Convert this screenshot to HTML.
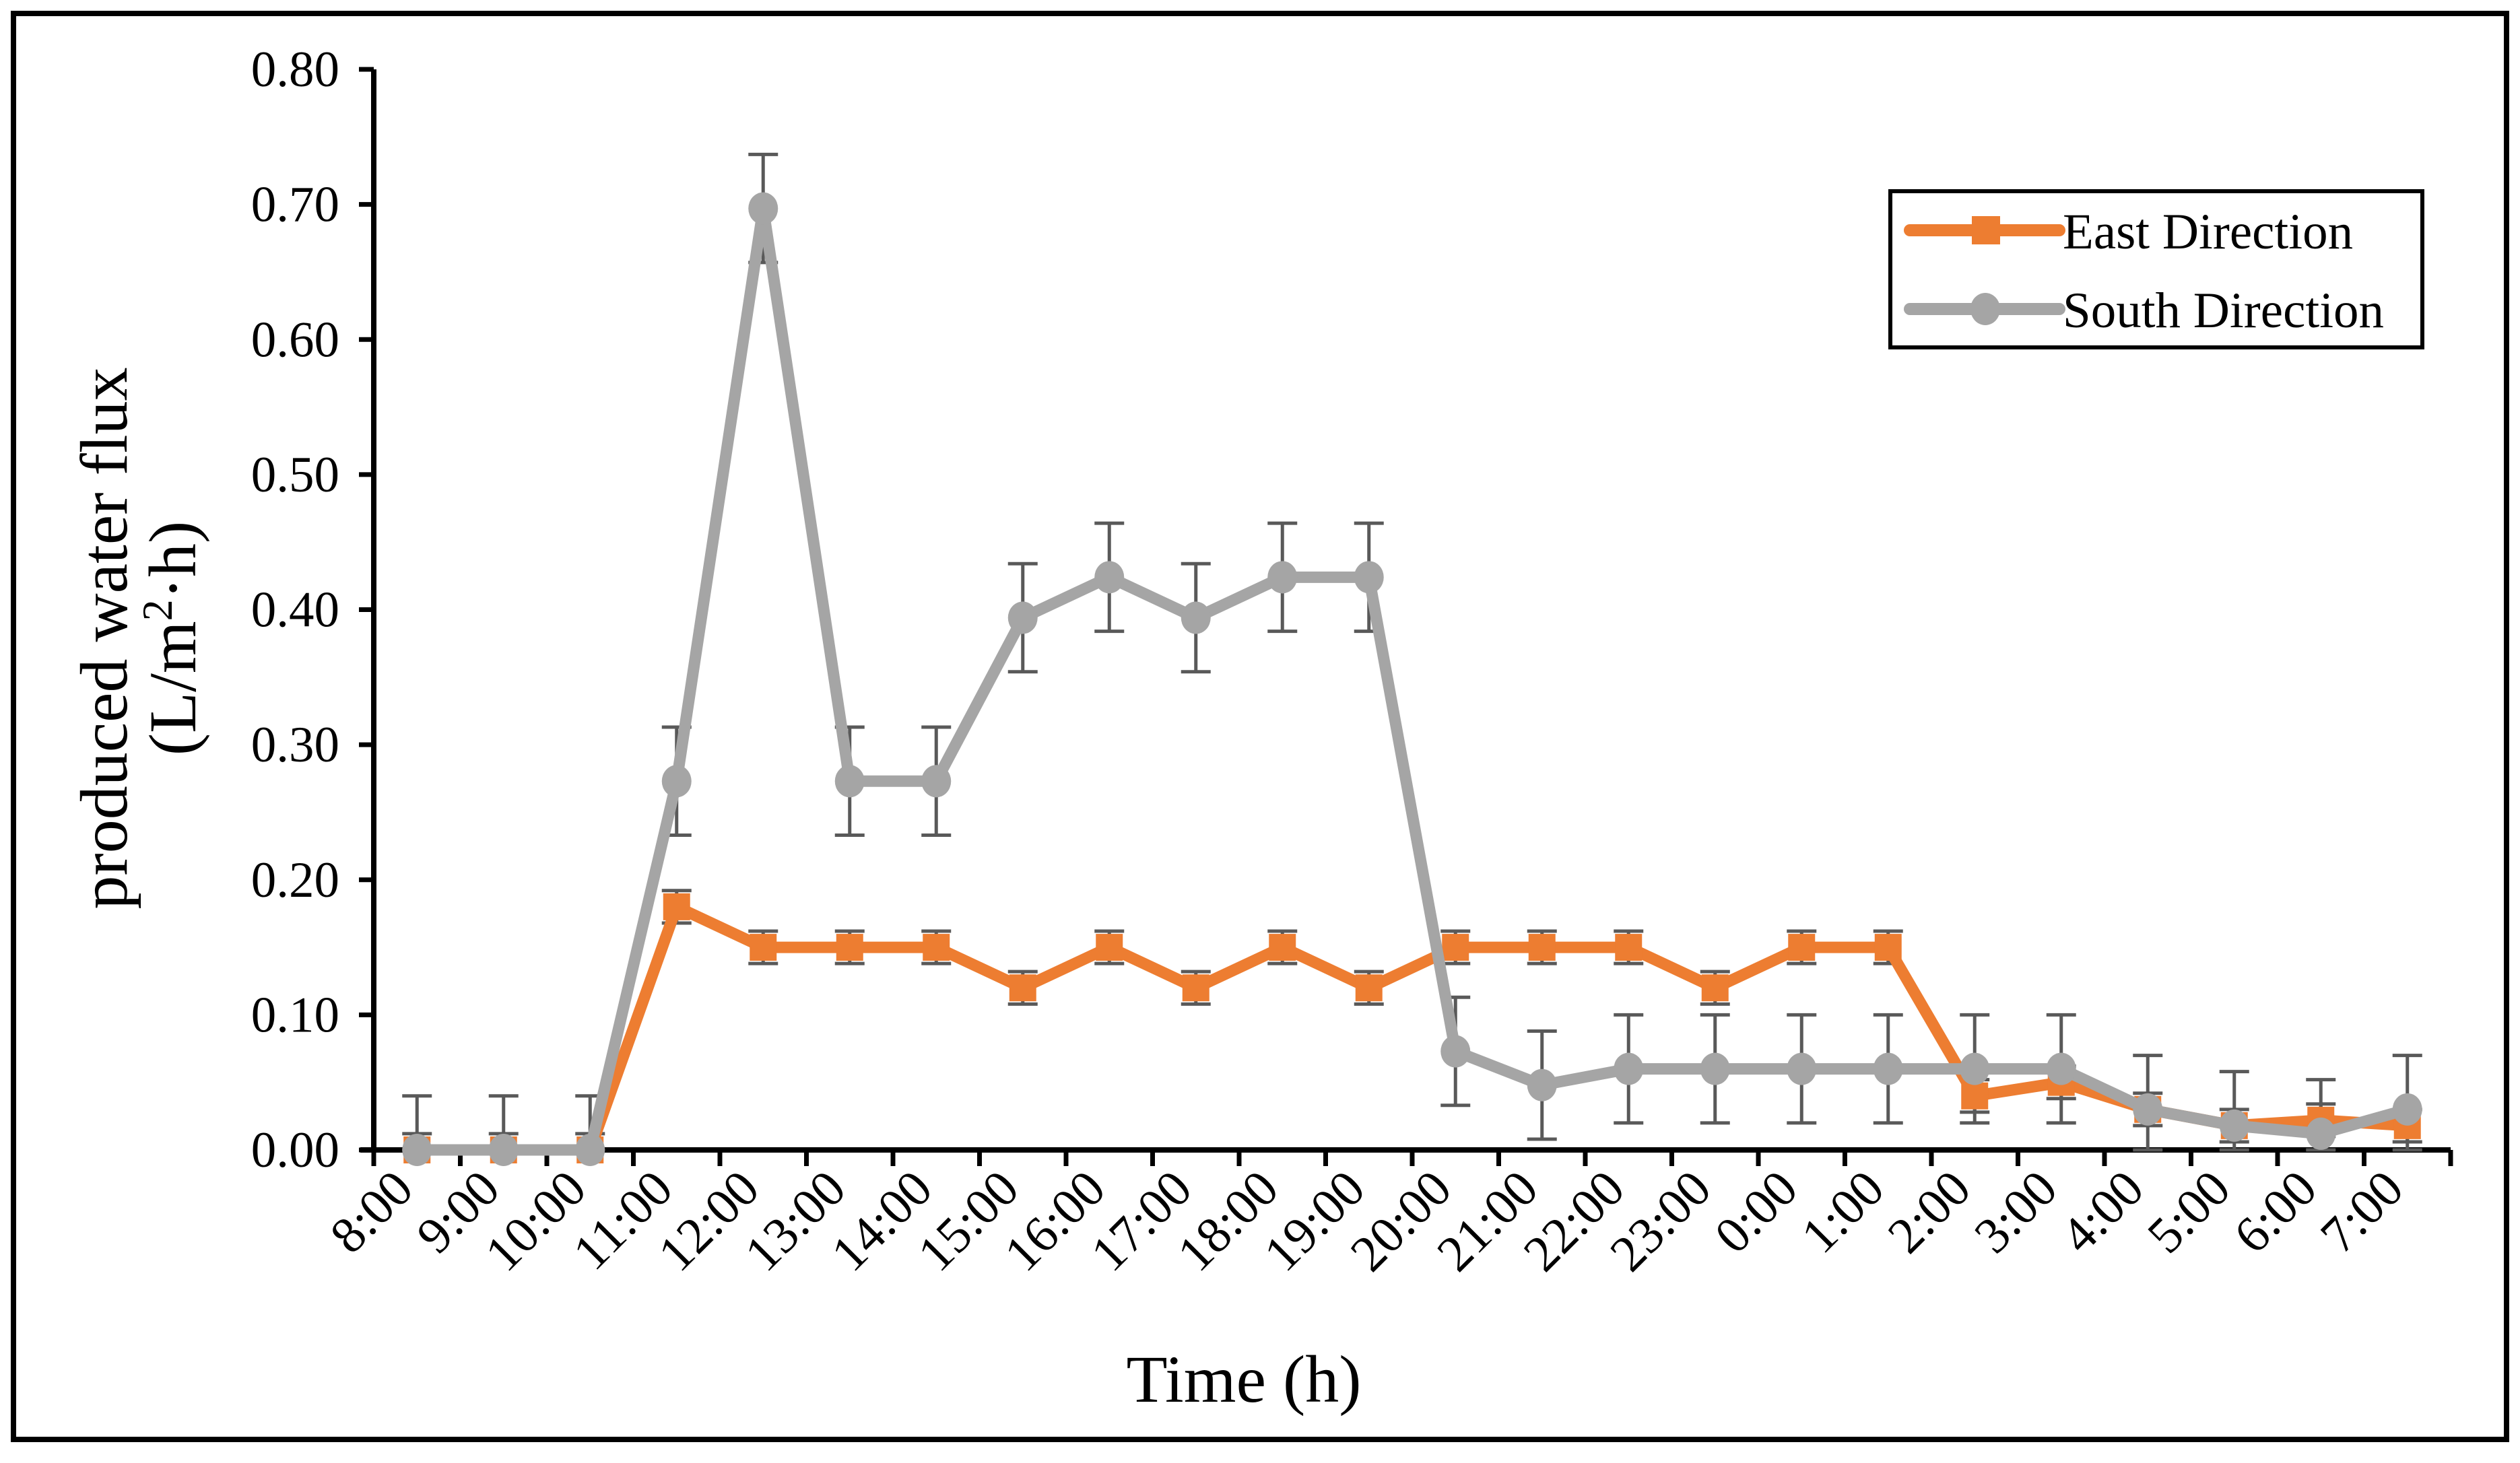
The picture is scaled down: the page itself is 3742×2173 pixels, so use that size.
<!DOCTYPE html>
<html><head><meta charset="utf-8"><style>
html,body{margin:0;padding:0;background:#fff;}
svg text{font-family:"Liberation Serif",serif;fill:#000;}
</style></head><body>
<svg id="chart" width="3742" height="2168" viewBox="0 0 3742 2168" xmlns="http://www.w3.org/2000/svg">
<rect x="20" y="20" width="3702" height="2118" fill="#fff" stroke="#000" stroke-width="8"/>
<g id="axes"></g>
<g id="errors"></g>
<g id="series"></g>
<text transform="translate(188,948) rotate(-90)" text-anchor="middle" font-size="100">produced water flux</text>
<text transform="translate(290,948) rotate(-90)" text-anchor="middle" font-size="100">(L/m<tspan baseline-shift="super" font-size="64">2</tspan>·h)</text>
<text x="1847" y="2082" text-anchor="middle" font-size="100">Time (h)</text>
<g>
<rect x="2807" y="284" width="790" height="232" fill="#fff" stroke="#000" stroke-width="6"/>
<g>
<line x1="2836" y1="342" x2="3058" y2="342" stroke="#ED7D31" stroke-width="18" stroke-linecap="round"/>
<rect x="2928" y="321" width="42" height="42" fill="#ED7D31"/>
<text x="3063" y="369" font-size="75">East Direction</text>
</g>
<g>
<line x1="2836" y1="459" x2="3058" y2="459" stroke="#A5A5A5" stroke-width="18" stroke-linecap="round"/>
<ellipse cx="2948" cy="459" rx="22" ry="24" fill="#A5A5A5"/>
<text x="3063" y="486" font-size="75">South Direction</text>
</g>
</g>
</svg>
<script>
const categories = ["8:00","9:00","10:00","11:00","12:00","13:00","14:00","15:00","16:00","17:00","18:00","19:00","20:00","21:00","22:00","23:00","0:00","1:00","2:00","3:00","4:00","5:00","6:00","7:00"];
const eastValues = [0,0,0,0.18,0.15,0.15,0.15,0.12,0.15,0.12,0.15,0.12,0.15,0.15,0.15,0.12,0.15,0.15,0.04,0.05,0.03,0.018,0.022,0.018];
const eastErrors = [0.012,0.012,0.012,0.012,0.012,0.012,0.012,0.012,0.012,0.012,0.012,0.012,0.012,0.012,0.012,0.012,0.012,0.012,0.012,0.012,0.012,0.012,0.012,0.012];
const southValues = [0,0,0,0.273,0.697,0.273,0.273,0.394,0.424,0.394,0.424,0.424,0.073,0.048,0.06,0.06,0.06,0.06,0.06,0.06,0.03,0.018,0.012,0.03];
const southErrors = [0.04,0.04,0.04,0.04,0.04,0.04,0.04,0.04,0.04,0.04,0.04,0.04,0.04,0.04,0.04,0.04,0.04,0.04,0.04,0.04,0.04,0.04,0.04,0.04];
const yTicks = [0,0.1,0.2,0.3,0.4,0.5,0.6,0.7,0.8];
const yTickLabels = ["0.00","0.10","0.20","0.30","0.40","0.50","0.60","0.70","0.80"];

const NS="http://www.w3.org/2000/svg";
const X0=555, X1=3639, Y0=1708, Y1=103, YMAX=0.8;
const band=(X1-X0)/categories.length;
function xs(i){return X0+band*(i+0.5);}
function ys(v){return Y0-(v/YMAX)*(Y0-Y1);}
function mk(tag,attrs,parent){const e=document.createElementNS(NS,tag);for(const k in attrs)e.setAttribute(k,attrs[k]);parent.appendChild(e);return e;}

const axes=document.getElementById('axes');
const ya=mk('line',{x1:X0,y1:Y1,x2:X0,y2:Y0,stroke:'#000','stroke-width':8},axes);


const xa=mk('line',{x1:X0-20,y1:Y0,x2:X1,y2:Y0,stroke:'#000','stroke-width':8},axes);


yTicks.forEach((v,i)=>{
  const t=mk('line',{x1:X0-22,y1:ys(v),x2:X0,y2:ys(v),stroke:'#000','stroke-width':7},axes);
  
  
  const l=mk('text',{x:504,y:ys(v)+25,'text-anchor':'end','font-size':75},axes);
  l.textContent=yTickLabels[i];
  
  
});
for(let i=0;i<=categories.length;i++){
  const x=X0+band*i;
  const t=mk('line',{x1:x,y1:Y0,x2:x,y2:Y0+24,stroke:'#000','stroke-width':7},axes);
  
  
}
categories.forEach((c,i)=>{
  const x=xs(i)-2, y=1770;
  const l=mk('text',{x:x,y:y,'text-anchor':'end','font-size':76,transform:`rotate(-45 ${x} ${y})`},axes);
  l.textContent=c;
  
  
});

const errs=document.getElementById('errors');
function errorBars(vals,errsArr,name){
  vals.forEach((v,i)=>{
    const top=ys(v+errsArr[i]), bot=ys(Math.max(0,v-errsArr[i]));
    const g=mk('g',{stroke:'#595959','stroke-width':5},errs);
    
    
    mk('line',{x1:xs(i),y1:top,x2:xs(i),y2:bot},g);
    mk('line',{x1:xs(i)-22,y1:top,x2:xs(i)+22,y2:top},g);
    mk('line',{x1:xs(i)-22,y1:bot,x2:xs(i)+22,y2:bot},g);
  });
}
errorBars(southValues,southErrors,'south');
errorBars(eastValues,eastErrors,'east');

const ser=document.getElementById('series');
function drawLine(vals,color,name,marker){
  const pts=vals.map((v,i)=>xs(i)+','+ys(v)).join(' ');
  const p=mk('polyline',{points:pts,fill:'none',stroke:color,'stroke-width':17,'stroke-linejoin':'round'},ser);
  
  
  vals.forEach((v,i)=>{
    let m;
    if(marker==='square') m=mk('rect',{x:xs(i)-20,y:ys(v)-20,width:40,height:40,fill:color},ser);
    else m=mk('ellipse',{cx:xs(i),cy:ys(v),rx:22,ry:24,fill:color},ser);
    
    
  });
}
drawLine(eastValues,'#ED7D31','east','square');
drawLine(southValues,'#A5A5A5','south','circle');
</script>
</body></html>
